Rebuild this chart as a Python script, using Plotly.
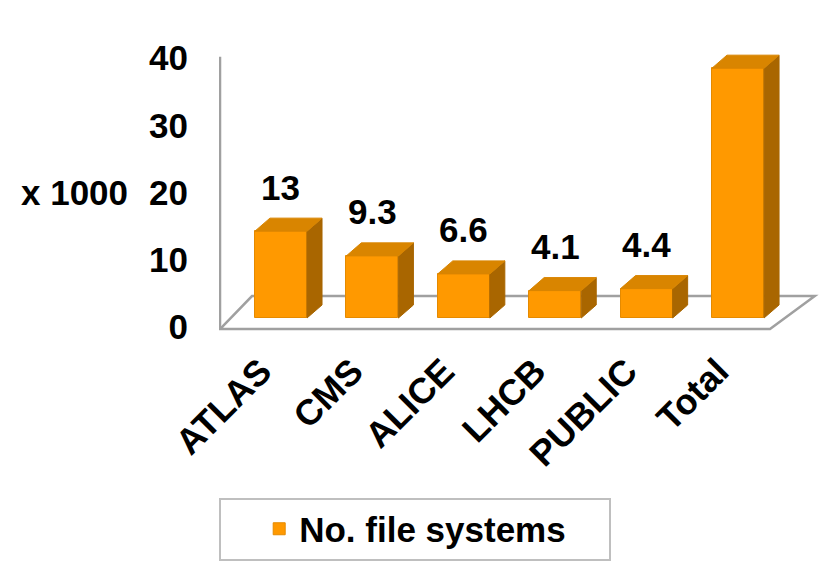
import plotly.graph_objects as go

# ---- data ----
categories = ["ATLAS", "CMS", "ALICE", "LHCB", "PUBLIC", "Total"]
values = [13, 9.3, 6.6, 4.1, 4.4, 37.4]
value_labels = ["13", "9.3", "6.6", "4.1", "4.4", "37.4"]
y_ticks = [0, 10, 20, 30, 40]
series_name = "No. file systems"

# ---- style constants ----
FONT = "Liberation Sans"
FRONT = "#FF9900"
SIDE = "#A96600"
TOP = "#D98500"
W = 0.57      # bar width (category units)
DX = 0.164    # depth offset x
DY = 1.95     # depth offset y
FLOOR_FRONT, FLOOR_BACK = -1.65, 3.29
FL_FRONT_L, FL_FRONT_R = -0.667, 5.35
FL_BACK_L, FL_BACK_R = -0.317, 5.84
WALL_TOP = 39.1

xs = list(range(len(categories)))

side_x, side_y, top_x, top_y = [], [], [], []
for xi, v in zip(xs, values):
    l, r = xi - W / 2, xi + W / 2
    side_x += [r, r + DX, r + DX, r, r, None]
    side_y += [0, DY, v + DY, v, 0, None]
    top_x += [l, l + DX, r + DX, r, l, None]
    top_y += [v, v + DY, v + DY, v, v, None]

fig = go.Figure()

# front faces
fig.add_trace(go.Bar(
    x=xs, y=values, width=W, name=series_name,
    marker=dict(color=FRONT, line=dict(color="#E58A00", width=1))))
# side faces
fig.add_trace(go.Scatter(
    x=side_x, y=side_y, mode="lines", fill="toself", fillcolor=SIDE,
    line=dict(color=SIDE, width=1), showlegend=False, hoverinfo="skip"))
# top faces
fig.add_trace(go.Scatter(
    x=top_x, y=top_y, mode="lines", fill="toself", fillcolor=TOP,
    line=dict(color=TOP, width=1), showlegend=False, hoverinfo="skip"))
# dummy trace for the shifted tick axis
fig.add_trace(go.Scatter(x=[None], y=[None], yaxis="y2", showlegend=False))

# floor and wall (decoration, drawn below)
floor_path = (f"M {FL_FRONT_L},{FLOOR_FRONT} L {FL_BACK_L},{FLOOR_BACK} "
              f"L {FL_BACK_R},{FLOOR_BACK} L {FL_FRONT_R},{FLOOR_FRONT} Z")
fig.add_shape(type="path", path=floor_path, xref="x", yref="y", layer="below",
              fillcolor="white", line=dict(color="#A0A0A0", width=2.5))
fig.add_shape(type="line", xref="x", yref="y", layer="below",
              x0=FL_FRONT_L, x1=FL_FRONT_L, y0=FLOOR_FRONT, y1=WALL_TOP,
              line=dict(color="#A0A0A0", width=2.5))

for xi, v, t in zip(xs, values, value_labels):
    fig.add_annotation(x=xi, y=min(v + 6.6, 42.3), text=t, showarrow=False,
                       font=dict(family=FONT, size=35, color="black", weight="bold"),
                       yanchor="middle", xanchor="center")

fig.add_annotation(xref="paper", yref="y2", x=0, y=20, text="x 1000",
                   showarrow=False, xanchor="right", xshift=-89,
                   font=dict(family=FONT, size=35, color="black", weight="bold"))

fig.update_layout(
    width=827, height=570,
    margin=dict(l=219, r=8, t=40, b=230),
    paper_bgcolor="white", plot_bgcolor="white",
    bargap=0,
    xaxis=dict(range=[-0.678, 5.886], tickvals=xs, ticktext=categories,
               tickangle=-45, showgrid=False, zeroline=False, showline=False,
               ticks="", ticklabelstandoff=2, ticklabelshift=-20,
               tickfont=dict(family=FONT, size=36, color="black", weight="bold")),
    yaxis=dict(range=[-3.293, 41.62], showgrid=False, zeroline=False,
               showline=False, showticklabels=False, ticks=""),
    yaxis2=dict(range=[-1.933, 42.68], overlaying="y", side="left",
                tickvals=y_ticks, showgrid=False, zeroline=False, showline=False,
                ticks="", ticklabelstandoff=30,
                tickfont=dict(family=FONT, size=35, color="black", weight="bold")),
    showlegend=True,
    legend=dict(orientation="h", x=0.327, xanchor="center", y=-0.63,
                yanchor="middle", bordercolor="#BFBFBF", borderwidth=2,
                indentation=38, entrywidth=305,
                font=dict(family=FONT, size=35, color="black", weight="bold")),
)

fig.write_html("out.html", config={"displayModeBar": False})
